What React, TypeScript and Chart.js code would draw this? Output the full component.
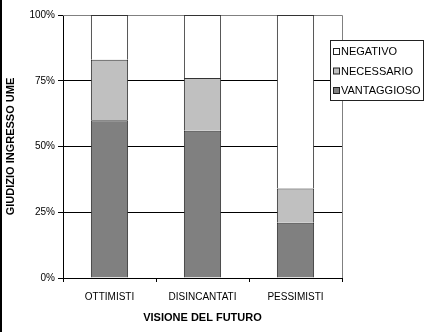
import React, { useEffect, useRef } from "react";
import { Chart, registerables } from "chart.js";

Chart.register(...registerables);

const categories = ["OTTIMISTI", "DISINCANTATI", "PESSIMISTI"];
const vantaggioso = [60, 56, 21];
const necessario = [23, 20, 13];
const negativo = [17, 24, 66];
const yTicks = [0, 25, 50, 75, 100];

const FONT = "'Liberation Sans', Arial, sans-serif";

const legendPlugin = {
  id: "boxLegend",
  afterDraw(chart: any) {
    const ctx = chart.ctx;
    const ds = chart.data.datasets.slice().reverse();
    const x = 330.5, y = 40.5, w = 93, h = 60;
    ctx.save();
    ctx.fillStyle = "#ffffff";
    ctx.fillRect(x, y, w, h);
    ctx.strokeStyle = "#222222";
    ctx.lineWidth = 1;
    ctx.strokeRect(x, y, w, h);
    ctx.font = `11px ${FONT}`;
    ctx.textBaseline = "middle";
    ds.forEach((d: any, i: number) => {
      const cy = 52 + i * 19.5;
      ctx.fillStyle = d.backgroundColor;
      ctx.fillRect(333.5, cy - 3.5, 6, 6);
      ctx.strokeStyle = "#222222";
      ctx.strokeRect(333.5, cy - 3.5, 6, 6);
      ctx.fillStyle = "#000000";
      ctx.fillText(d.label, 341, cy);
    });
    ctx.restore();
  },
};

const framePlugin = {
  id: "frame",
  beforeDatasetsDraw(chart: any) {
    const { ctx, chartArea } = chart;
    ctx.save();
    ctx.strokeStyle = "#808080";
    ctx.lineWidth = 1;
    ctx.beginPath();
    ctx.moveTo(chartArea.left, Math.round(chartArea.top) + 0.5);
    ctx.lineTo(Math.round(chartArea.right) + 0.5, Math.round(chartArea.top) + 0.5);
    ctx.lineTo(Math.round(chartArea.right) + 0.5, chartArea.bottom);
    ctx.stroke();
    ctx.restore();
  },
  afterDraw(chart: any) {
    const ctx = chart.ctx;
    ctx.save();
    ctx.fillStyle = "#000000";
    ctx.fillRect(0, 0, 2, chart.height);
    ctx.restore();
  },
};

export default function App() {
  const ref = useRef<HTMLCanvasElement>(null);
  useEffect(() => {
    document.body.style.margin = "0";
    const chart = new Chart(ref.current!, {
      type: "bar",
      data: {
        labels: categories,
        datasets: [
          { label: "VANTAGGIOSO", data: vantaggioso, backgroundColor: "#808080" },
          { label: "NECESSARIO", data: necessario, backgroundColor: "#c0c0c0" },
          { label: "NEGATIVO", data: negativo, backgroundColor: "#ffffff" },
        ].map((d) => ({
          ...d,
          borderColor: "#333333",
          borderWidth: 1,
          borderSkipped: "start" as any,
          categoryPercentage: 1,
          barPercentage: 0.4,
        })),
      },
      options: {
        animation: false,
        responsive: false,
        maintainAspectRatio: false,
        layout: { padding: { left: 0, right: 88, top: 15, bottom: 0 } },
        plugins: { legend: { display: false }, tooltip: { enabled: false } },
        scales: {
          x: {
            stacked: true,
            afterFit(scale: any) {
              scale.height = 54;
            },
            grid: {
              drawOnChartArea: false,
              drawTicks: true,
              tickLength: 4,
              tickColor: "#000000",
              offset: true,
            },
            border: { color: "#000000", width: 1 },
            ticks: {
              color: "#000000",
              font: { family: FONT, size: 10 },
              padding: 9,
            },
            title: {
              display: true,
              text: "VISIONE DEL FUTURO",
              color: "#000000",
              font: { family: FONT, size: 11, weight: "bold" },
              padding: { top: 0, bottom: 7 },
            },
          },
          y: {
            stacked: true,
            min: 0,
            max: 100,
            afterFit(scale: any) {
              scale.width = 63;
            },
            afterBuildTicks(scale: any) {
              scale.ticks = yTicks.map((v) => ({ value: v }));
            },
            grid: {
              color: (c: any) => (c.tick && c.tick.value === 100 ? "#808080" : "#000000"),
              tickColor: "#000000",
              tickLength: 5,
              lineWidth: 1,
            },
            border: { color: "#000000", width: 1 },
            ticks: {
              color: "#000000",
              font: { family: FONT, size: 10 },
              padding: 3,
              callback: (v: any) => `${v}%`,
            },
            title: {
              display: true,
              text: "GIUDIZIO INGRESSO UME",
              color: "#000000",
              font: { family: FONT, size: 11, weight: "bold" },
              padding: { top: 4, bottom: 4 },
            },
          },
        },
      },
      plugins: [framePlugin, legendPlugin],
    });
    return () => chart.destroy();
  }, []);
  return (
    <div style={{ width: 430, height: 332, background: "#ffffff" }}>
      <canvas ref={ref} width={430} height={332} style={{ display: "block" }} />
    </div>
  );
}
